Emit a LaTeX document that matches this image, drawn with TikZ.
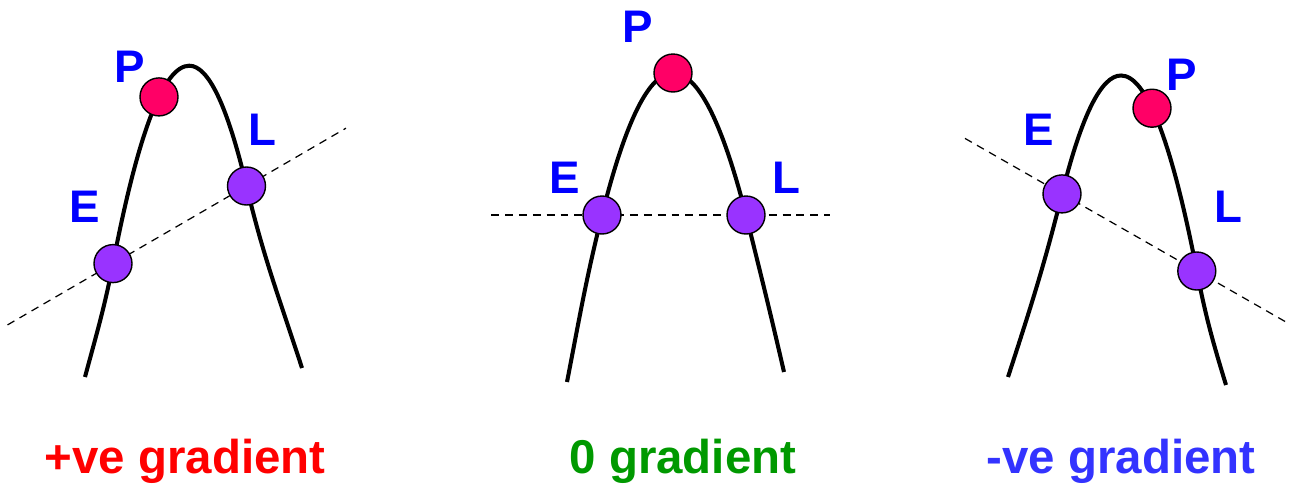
\documentclass[tikz,border=0pt]{standalone}
\usepackage{fontspec}
\setmainfont{Liberation Sans}
\usetikzlibrary{calc}
\definecolor{peakred}{RGB}{255,0,102}
\definecolor{dotpurple}{RGB}{153,51,255}
\definecolor{lblblue}{RGB}{0,0,255}
\definecolor{posred}{RGB}{255,0,0}
\definecolor{zerogreen}{RGB}{0,153,0}
\definecolor{negblue}{RGB}{51,51,255}

\begin{document}
\begin{tikzpicture}[x=0.02cm, y=0.02cm,
  curve/.style={line width=2.3pt},
  chord/.style={line width=0.7pt, dash pattern=on 4.5pt off 3.4pt},
  dot/.style={circle, draw=black, line width=0.8pt, minimum size=0.76cm, inner sep=0pt},
  peakdot/.style={dot, fill=peakred},
  edgedot/.style={dot, fill=dotpurple},
  lbl/.style={font=\fontsize{26}{28}\selectfont\bfseries, text=lblblue, inner sep=0pt},
  caption/.style={font=\fontsize{27}{30}\selectfont\bfseries, inner sep=0pt, anchor=base}]
\useasboundingbox (0,0) rectangle (1294,485);

% +ve gradient
\coordinate (b1) at (85,108);
\coordinate (e1) at (113,221.4);
\coordinate (t1) at (189.3,419.3);
\coordinate (l1) at (246.5,299);
\coordinate (f1) at (302,117);
\draw [chord] ($(e1)!-0.79!(l1)$) -- ($(l1)!-0.745!(e1)$);
\draw [curve] (b1) to[out=75,in=-101] (e1)
  .. controls (138.4,353.3) and (163.9,419.3) .. (t1)
  .. controls (208.4,419.3) and (227.4,379.2) .. (l1)
  to[out=-76.6,in=108] (f1);
\node [edgedot] (E1) at (e1) {};
\node [peakdot] (P1) at (159,388.1) {};
\node [edgedot] (L1) at (l1) {};
\node [lbl] at (130,418) {P};
\node [lbl] at (85,278)  {E};
\node [lbl] at (262,355) {L};
\node [caption, text=posred] at (185,12) {+ve gradient};

% 0 gradient
\coordinate (b2) at (567,103);
\coordinate (e2) at (602,270);
\coordinate (p2) at (673,412);
\coordinate (l2) at (746,270);
\coordinate (f2) at (784,113);
\draw [chord] ($(e2)!-0.77!(l2)$) -- ($(l2)!-0.58!(e2)$);
\draw [curve] (b2) to[out=79,in=-104] (e2)
  .. controls (625.7,364.7) and (649.3,412) .. (p2)
  .. controls (697.3,412) and (721.7,364.7) .. (l2)
  to[out=-76,in=103] (f2);
\node [edgedot] (E2) at (e2) {};
\node [peakdot] (P2) at (p2) {};
\node [edgedot] (L2) at (l2) {};
\node [lbl] at (638,458) {P};
\node [lbl] at (565,307) {E};
\node [lbl] at (786,307) {L};
\node [caption, text=zerogreen] at (683,12) {0 gradient};

% -ve gradient
\coordinate (b3) at (1008,108);
\coordinate (e3) at (1062,291.1);
\coordinate (t3) at (1121,409.5);
\coordinate (l3) at (1196.8,214);
\coordinate (f3) at (1226,100);
\draw [chord] ($(e3)!-0.72!(l3)$) -- ($(l3)!-0.69!(e3)$);
\draw [curve] (b3) to[out=72,in=-104] (e3)
  .. controls (1081.7,370.0) and (1101.3,409.5) .. (t3)
  .. controls (1146.3,409.5) and (1171.5,344.3) .. (l3)
  to[out=-79,in=107] (f3);
\node [edgedot] (E3) at (e3) {};
\node [peakdot] (P3) at (1152,376.8) {};
\node [edgedot] (L3) at (l3) {};
\node [lbl] at (1182,410) {P};
\node [lbl] at (1039,355) {E};
\node [lbl] at (1228,278) {L};
\node [caption, text=negblue] at (1121,12) {-ve gradient};
\end{tikzpicture}
\end{document}
